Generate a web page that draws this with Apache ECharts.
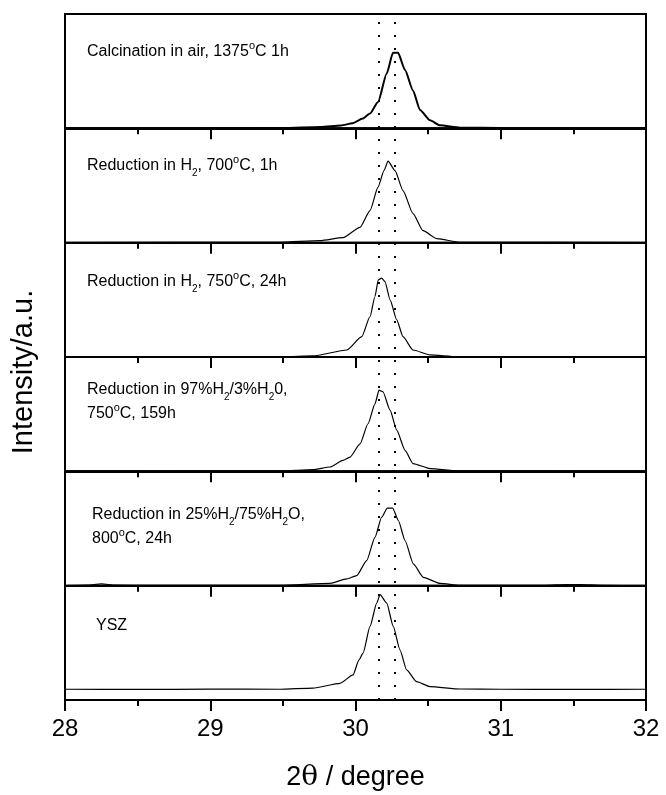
<!DOCTYPE html>
<html>
<head>
<meta charset="utf-8">
<script src="https://cdn.jsdelivr.net/npm/echarts@6/dist/echarts.min.js"></script>
<style>
  html, body { margin: 0; padding: 0; background: #fff; }
  #chart { width: 666px; height: 795px; }
</style>
</head>
<body>
<div id="chart"></div>
<script>
// 2theta (degree) / intensity (a.u., normalised per panel)
const calcination = [
  [28, 0], [29.5, 0.002], [29.76, 0.011], [29.9, 0.025], [29.98, 0.044], [30.05, 0.085],
  [30.1, 0.13], [30.155, 0.23], [30.215, 0.48], [30.258, 0.66], [30.293, 0.66], [30.341, 0.51],
  [30.396, 0.33], [30.444, 0.16], [30.513, 0.07], [30.582, 0.026], [30.72, 0.006], [31, 0.002], [32, 0]
];
const redH2_700 = [
  [28, 0], [29.48, 0.003], [29.756, 0.018], [29.914, 0.044], [30.031, 0.134], [30.1, 0.28],
  [30.155, 0.485], [30.196, 0.63], [30.224, 0.713], [30.272, 0.63], [30.327, 0.456], [30.396, 0.254],
  [30.465, 0.105], [30.561, 0.035], [30.72, 0.003], [32, 0]
];
const redH2_750 = [
  [28, 0], [29.5, 0.003], [29.707, 0.009], [29.94, 0.061], [30.043, 0.178], [30.1, 0.354],
  [30.134, 0.529], [30.157, 0.675], [30.18, 0.69], [30.203, 0.66], [30.238, 0.5], [30.284, 0.325],
  [30.327, 0.178], [30.396, 0.061], [30.513, 0.018], [30.7, 0.003], [32, 0]
];
const red97H2 = [
  [28, 0], [29.48, 0.003], [29.707, 0.015], [29.824, 0.038], [29.914, 0.096], [29.962, 0.125],
  [30.031, 0.24], [30.086, 0.416], [30.134, 0.59], [30.162, 0.71], [30.189, 0.696], [30.238, 0.535],
  [30.284, 0.36], [30.341, 0.184], [30.396, 0.068], [30.513, 0.024], [30.72, 0.003], [32, 0]
];
const red25H2 = [
  [28, 0], [28.15, 0.005], [28.25, 0.015], [28.35, 0.005], [28.6, 0.002], [29.48, 0.003],
  [29.824, 0.02], [29.94, 0.059], [30.008, 0.088], [30.077, 0.219], [30.134, 0.423], [30.18, 0.599],
  [30.219, 0.678], [30.256, 0.678], [30.295, 0.57], [30.341, 0.395], [30.398, 0.19], [30.467, 0.073],
  [30.582, 0.02], [30.72, 0.003], [31.3, 0.002], [31.45, 0.01], [31.55, 0.01], [31.7, 0.002], [32, 0]
];
const ysz = [
  [28, 0.094], [28.5, 0.092], [29, 0.095], [29.48, 0.094], [29.707, 0.103], [29.893, 0.146],
  [29.983, 0.219], [30.024, 0.35], [30.052, 0.41], [30.1, 0.643], [30.146, 0.848], [30.169, 0.921],
  [30.215, 0.848], [30.26, 0.643], [30.306, 0.439], [30.352, 0.263], [30.421, 0.16], [30.513, 0.117],
  [30.72, 0.096], [31, 0.094], [31.5, 0.093], [32, 0.094]
];
const refLines = [30.16, 30.27];

const panels = [
  { data: calcination, width: 2, label: "{n|Calcination in air, 1375}{sup|o}{n|C 1h}", lx: 87, ly: 52 },
  { data: redH2_700, width: 1.2, label: "{n|Reduction in H}{sub|2}{n|, 700}{sup|o}{n|C, 1h}", lx: 87, ly: 166 },
  { data: redH2_750, width: 1.2, label: "{n|Reduction in H}{sub|2}{n|, 750}{sup|o}{n|C, 24h}", lx: 87, ly: 282 },
  { data: red97H2, width: 1.2, label: "{n|Reduction in 97%H}{sub|2}{n|/3%H}{sub|2}{n|0,}\n{n|750}{sup|o}{n|C, 159h}", lx: 87, ly: 402 },
  { data: red25H2, width: 1.2, label: "{n|Reduction in 25%H}{sub|2}{n|/75%H}{sub|2}{n|O,}\n{n|800}{sup|o}{n|C, 24h}", lx: 92, ly: 527 },
  { data: ysz, width: 1.2, label: "{n|YSZ}", lx: 96, ly: 626 }
];

const font = "Liberation Sans, Arial, sans-serif";
const top0 = 14, panelH = 114.33, left = 65, right = 20;
const richStyle = {
  n: { fontSize: 16, lineHeight: 24, fontFamily: font, color: "#000" },
  sup: { fontSize: 11, lineHeight: 12, verticalAlign: "top", fontFamily: font, color: "#000" },
  sub: { fontSize: 10, lineHeight: 10, verticalAlign: "bottom", fontFamily: font, color: "#000" }
};

let grids = [], xAxes = [], yAxes = [], series = [], graphics = [];
panels.forEach((p, i) => {
  const last = i === panels.length - 1;
  grids.push({
    left: left, right: right, top: top0 + i * panelH, height: panelH,
    show: true, borderColor: "#000", borderWidth: 2, backgroundColor: "transparent"
  });
  xAxes.push({
    gridIndex: i, type: "value", min: 28, max: 32, interval: 1,
    axisLine: { show: true, lineStyle: { color: "#000", width: 2 } },
    axisTick: { show: true, inside: false, length: 11, lineStyle: { color: "#000", width: 2 } },
    minorTick: { show: true, splitNumber: 2, length: 6, lineStyle: { color: "#000", width: 2 } },
    splitLine: { show: false },
    axisLabel: { show: last, color: "#000", fontSize: 24, fontFamily: font, margin: 17 },
    name: last ? "{a|2}{t|θ}{a| / degree}" : "",
    nameLocation: "middle",
    nameGap: 64,
    nameTextStyle: {
      rich: {
        a: { fontSize: 27, fontFamily: font, color: "#000" },
        t: { fontSize: 28, fontFamily: "DejaVu Serif, serif", color: "#000" }
      }
    }
  });
  yAxes.push({ gridIndex: i, type: "value", min: 0, max: 1, show: false });
  series.push({
    type: "line", xAxisIndex: i, yAxisIndex: i, data: p.data,
    symbol: "none", silent: true, smooth: 0.2, smoothMonotone: "x",
    lineStyle: { color: "#000", width: p.width }
  });
  graphics.push({
    type: "text", x: p.lx, y: p.ly, silent: true,
    style: { text: p.label, rich: richStyle, verticalAlign: "middle", align: "left" }
  });
});

// overlay grid for the dotted reference lines across all panels
grids.push({ left: left, right: right, top: top0, height: panelH * 6 });
xAxes.push({ gridIndex: 6, type: "value", min: 28, max: 32, show: false });
yAxes.push({ gridIndex: 6, type: "value", min: 0, max: 1, show: false });
series.push({
  type: "line", xAxisIndex: 6, yAxisIndex: 6, data: [], symbol: "none", silent: true,
  markLine: {
    symbol: "none", silent: true, label: { show: false },
    lineStyle: { color: "#000", width: 2, type: [2, 11] },
    data: refLines.map(v => ({ xAxis: v }))
  }
});

graphics.push({
  type: "text", x: 24, y: 372, rotation: Math.PI / 2, silent: true,
  style: { text: "Intensity/a.u.", fontSize: 29, fontFamily: font, fill: "#000", align: "center", verticalAlign: "middle" }
});

const myChart = echarts.init(document.getElementById("chart"));
myChart.setOption({
  animation: false,
  grid: grids,
  xAxis: xAxes,
  yAxis: yAxes,
  series: series,
  graphic: graphics
});
</script>
</body>
</html>
